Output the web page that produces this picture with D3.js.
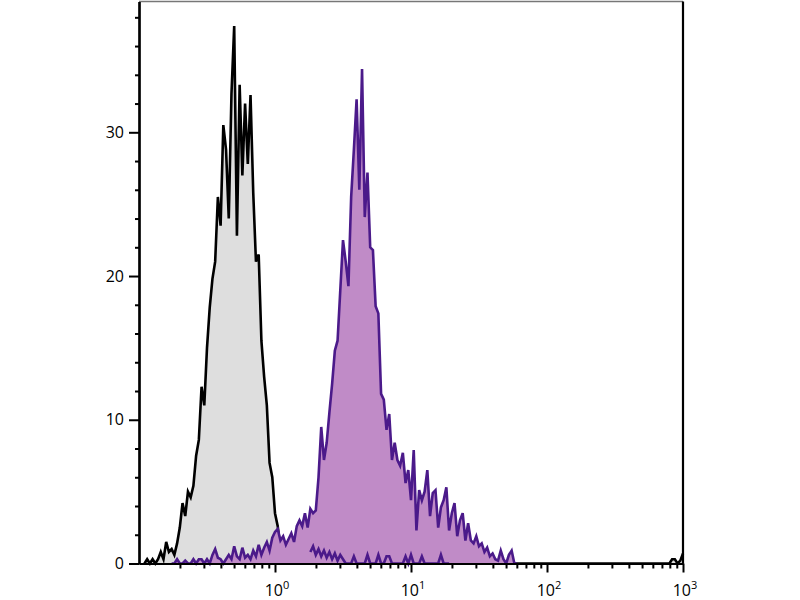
<!DOCTYPE html>
<html>
<head>
<meta charset="utf-8">
<script src="https://cdn.jsdelivr.net/npm/d3@7"></script>
<style>
  body { margin: 0; background: #fff; }
  svg text { font-family: "Open Sans", "DejaVu Sans", sans-serif; fill: #000; }
</style>
</head>
<body>
<div id="chart"></div>
<script>
// histogram channels: log10 of the bin centre = BIN_START + i * BIN_STEP
const BIN_STEP = 0.02;

// isotype control (grey)
const BLACK_START = -0.96;
const blackCounts = [
  0, 0.3, 0, 0.3, 0, 0.3, 0.8, 0.3, 1.5, 0.8,
  1.0, 0.6, 1.4, 2.5, 4.2, 3.3, 5.0, 4.6, 5.4, 7.5,
  8.6, 12.3, 11.0, 15.0, 17.8, 19.8, 21.0, 25.5, 23.5, 30.5,
  28.8, 24.0, 32.7, 37.4, 22.8, 33.3, 27.0, 32.0, 27.8, 32.6,
  25.8, 21.0, 21.5, 15.5, 13.0, 11.0, 7.0, 6.0, 3.5, 2.6,
  1.0, 0.4, 0.2, 0
];
// events piled at the top of the scale
const blackTailLog = [2.90, 2.92, 2.94, 2.96, 2.98, 3.0];
const blackTailCounts = [0, 0.3, 0.3, 0, 0.2, 0.7];

// stained sample (purple)
const PURPLE_START = -0.76;
const purpleCounts = [
  0, 0, 0.3, 0, 0, 0.2, 0, 0, 0.3, 0,
  0.3, 0.3, 0, 0.3, 0, 0.6, 1.0, 0.4, 0.3, 0,
  0.3, 0.6, 0.3, 1.2, 0.5, 0.3, 1.1, 0.4, 0.6, 0.3,
  0.9, 0.5, 1.3, 0.6, 1.1, 1.5, 0.9, 1.8, 2.2, 2.4,
  1.6, 1.9, 1.3, 1.7, 2.1, 1.5, 2.6, 3.0, 2.6, 3.5,
  2.5, 3.8, 3.5, 3.7, 6.0, 9.5, 7.2, 8.4, 10.5, 12.5,
  14.8, 15.5, 19.0, 22.5, 21.0, 19.3, 25.5, 28.8, 32.3, 26.0,
  34.4, 24.1, 27.2, 22.0, 21.8, 17.9, 17.4, 11.8, 11.4, 9.3,
  10.4, 7.2, 8.4, 7.2, 6.8, 7.7, 5.6, 6.5, 4.4, 7.9,
  2.3, 5.1, 4.4, 5.0, 6.5, 3.3, 4.9, 5.1, 2.5, 3.9,
  4.4, 5.3, 2.3, 3.5, 4.2, 1.9, 3.0, 3.5, 1.6, 2.8,
  1.6, 1.4, 1.9, 1.2, 1.4, 0.8, 1.1, 0.5, 0.7, 0.3,
  0.2, 0.9, 0.3, 0, 0.6, 0.9, 0, 0
];

// low purple trace running along the baseline
const LOW_START = 0.26;
const lowCounts = [
  0.8, 1.2, 0.6, 1.0, 0.5, 0.9, 0.4, 0.8, 0.3, 0.7,
  0.2, 0.6, 0.3, 0, 0, 0, 0.5, 0, 0, 0,
  0, 0.6, 0, 0, 0, 0.6, 0, 0, 0.5, 0.5,
  0, 0, 0, 0, 0, 0.5, 0, 0.6, 0, 0,
  0, 0.5, 0, 0, 0, 0, 0, 0, 0.6, 0,
  0, 0
];

const X_DOMAIN = [0.1, 1000];
const Y_DOMAIN = [0, 39.1];
const Y_MAJOR = [0, 10, 20, 30];
const X_MAJOR = [1, 10, 100, 1000];
const X_LABEL_EXP = ["0", "1", "2", "3"];

const SVG_WIDTH = 800;
const SVG_HEIGHT = 600;
const X_LEFT = 139;
const X_RIGHT = 683;
const Y_TOP = 1.5;
const Y_BOTTOM = 563.5;

function toPoints(start, counts) {
  return counts.map((c, i) => ({ v: Math.pow(10, start + i * BIN_STEP), c: c }));
}

const blackData = toPoints(BLACK_START, blackCounts)
  .concat(blackTailLog.map((l, i) => ({ v: Math.pow(10, l), c: blackTailCounts[i] })));
const purpleData = toPoints(PURPLE_START, purpleCounts);
const lowData = toPoints(LOW_START, lowCounts);

const svg = d3.select("#chart")
  .append("svg")
  .attr("width", SVG_WIDTH)
  .attr("height", SVG_HEIGHT);

const xScale = d3.scaleLog().domain(X_DOMAIN).range([X_LEFT, X_RIGHT]);
const yScale = d3.scaleLinear().domain(Y_DOMAIN).range([Y_BOTTOM, Y_TOP]);

const area = d3.area()
  .x(d => xScale(d.v))
  .y0(yScale(0))
  .y1(d => yScale(d.c));
const line = d3.line()
  .x(d => xScale(d.v))
  .y(d => yScale(d.c));

const plot = svg.append("g").attr("class", "plot");

// grey control
plot.append("path").datum(blackData)
  .attr("d", area).attr("fill", "#dedede");
plot.append("path").datum(blackData)
  .attr("d", line).attr("fill", "none")
  .attr("stroke", "#000").attr("stroke-width", 2.6);

// purple sample
plot.append("path").datum(purpleData)
  .attr("d", area).attr("fill", "#c08bc7");
plot.append("path").datum(purpleData)
  .attr("d", line).attr("fill", "none")
  .attr("stroke", "#4b1a8a").attr("stroke-width", 2.6);
plot.append("path").datum(lowData)
  .attr("d", line).attr("fill", "none")
  .attr("stroke", "#4b1a8a").attr("stroke-width", 2.6);

// frame: thin grey top, black right
svg.append("line")
  .attr("x1", X_LEFT).attr("x2", X_RIGHT)
  .attr("y1", Y_TOP).attr("y2", Y_TOP)
  .attr("stroke", "#777").attr("stroke-width", 1.5);
svg.append("line")
  .attr("x1", X_RIGHT).attr("x2", X_RIGHT)
  .attr("y1", Y_TOP).attr("y2", Y_BOTTOM)
  .attr("stroke", "#000").attr("stroke-width", 2.2);

// y axis
const yMinor = d3.range(0, 40, 2).filter(v => Y_MAJOR.indexOf(v) < 0);
const yAxisG = svg.append("g")
  .attr("class", "y-axis")
  .attr("transform", `translate(${X_LEFT},0)`);
yAxisG.append("g")
  .call(d3.axisLeft(yScale).tickValues(yMinor).tickSize(4).tickFormat("").tickSizeOuter(0));
yAxisG.append("g")
  .call(d3.axisLeft(yScale).tickValues(Y_MAJOR).tickSize(10).tickPadding(5).tickSizeOuter(0));
yAxisG.selectAll("path").attr("stroke", "#000").attr("stroke-width", 2.2);
yAxisG.selectAll("line").attr("stroke", "#000").attr("stroke-width", 2);
yAxisG.selectAll("text").style("font-size", "16px").attr("fill", "#000");

// x axis
const xMinor = [];
[0.1, 1, 10, 100].forEach(d => {
  for (let k = 2; k <= 9; k++) xMinor.push(d * k);
});
const xAxisG = svg.append("g")
  .attr("class", "x-axis")
  .attr("transform", `translate(0,${Y_BOTTOM})`);
xAxisG.append("g")
  .call(d3.axisBottom(xScale).tickValues(xMinor).tickSize(5).tickFormat("").tickSizeOuter(0));
xAxisG.append("g")
  .call(d3.axisBottom(xScale).tickValues(X_MAJOR).tickSize(9).tickFormat("").tickSizeOuter(0));
xAxisG.selectAll("path").attr("stroke", "#000").attr("stroke-width", 2.2);
xAxisG.selectAll("line").attr("stroke", "#000").attr("stroke-width", 2);

// 10^n labels
const xl = xAxisG.selectAll(".xlab")
  .data(X_MAJOR)
  .enter().append("text")
  .attr("class", "xlab")
  .attr("x", d => xScale(d) + 2)
  .attr("y", 32)
  .attr("text-anchor", "middle")
  .style("font-size", "16px");
xl.append("tspan").text("10");
xl.append("tspan")
  .attr("dy", -7)
  .style("font-size", "11px")
  .text((d, i) => X_LABEL_EXP[i]);
</script>
</body>
</html>
